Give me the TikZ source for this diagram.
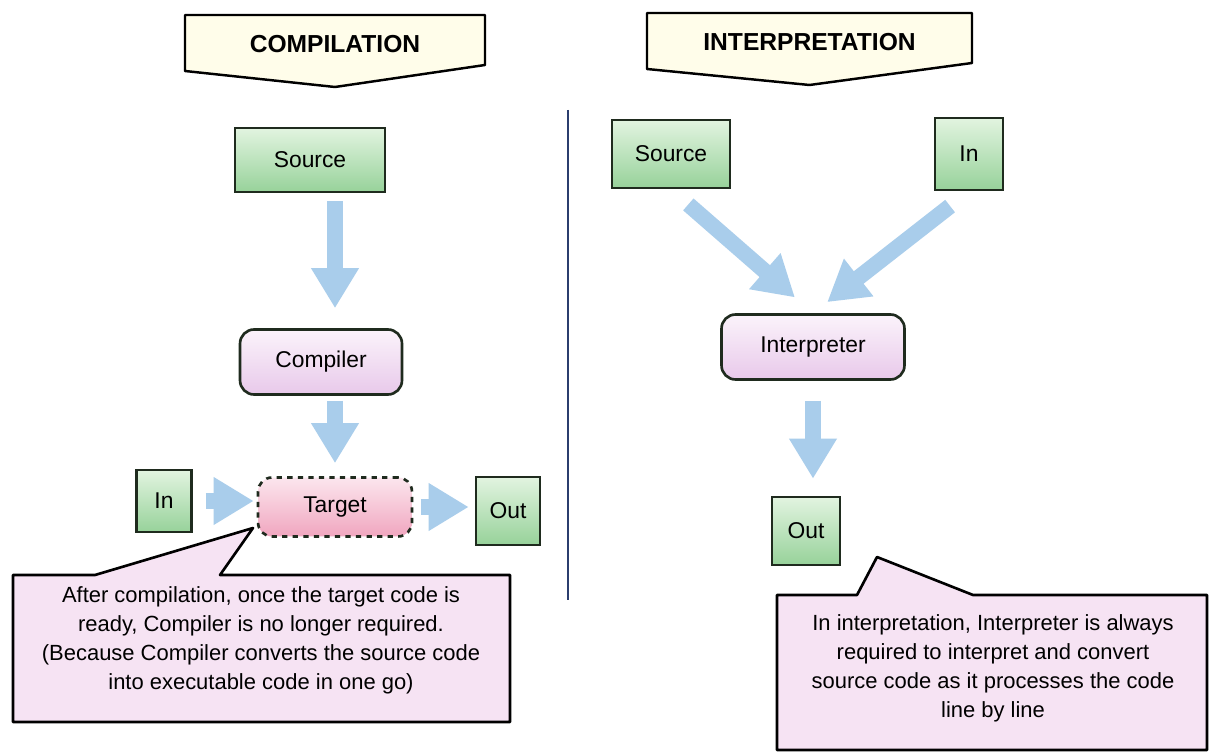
\documentclass[tikz,border=0pt]{standalone}
\usepackage{fontspec}
\setmainfont{Liberation Sans}
\usepackage{tikz}
\usetikzlibrary{calc}
\usetikzlibrary{arrows.meta}
\definecolor{greenA}{HTML}{E2F4E0}
\definecolor{greenB}{HTML}{97D29A}
\definecolor{edgedark}{HTML}{1F2B1E}
\definecolor{pinkA}{HTML}{FBF3FB}
\definecolor{pinkB}{HTML}{E8C9EA}
\definecolor{targetA}{HTML}{FCE6EE}
\definecolor{targetB}{HTML}{F0A6BF}
\definecolor{notefill}{HTML}{F6E3F3}
\definecolor{flowblue}{HTML}{A9CDEB}
\definecolor{bannerfill}{HTML}{FFFDEA}
\definecolor{divider}{HTML}{2B3D6E}
\tikzset{
  greenbox/.style={draw=edgedark, line width=1.5pt, top color=greenA, bottom color=greenB,
    font=\fontsize{13}{15}\selectfont, inner sep=0pt},
  procbox/.style={draw=edgedark, line width=1.5pt, rounded corners=8pt, top color=pinkA,
    bottom color=pinkB, font=\fontsize{13}{15}\selectfont, inner sep=0pt},
  flow/.style={draw=flowblue, line width=9pt, -{Triangle[length=0.8cm,width=0.9cm,fill=flowblue]}},
  bannerline/.style={draw=black, line width=1.4pt, fill=bannerfill, line join=round},
  bannertext/.style={font=\bfseries\fontsize{14}{16}\selectfont},
  noteline/.style={draw=black, line width=1.5pt, fill=notefill, line join=round},
  notetext/.style={align=center, font=\fontsize{12.5}{16.5}\selectfont}
}
\newcommand{\banner}[5]{ \draw[bannerline] (#2,#4) -- (#3,#4) -- (#3,#4+50) -- ({(#2+#3)/2},#4+72) -- (#2,#4+56) -- cycle;
  \node[bannertext] (#1) at ({(#2+#3)/2},#4+29) {#5};}

\begin{document}
\begin{tikzpicture}[x=0.02cm,y=-0.02cm]
\useasboundingbox[fill=white] (0,0) rectangle (1210,753);
% headings
\banner{compHead}{185}{485}{15}{COMPILATION}
\banner{interpHead}{647}{972}{13}{INTERPRETATION}
% divider
\draw[divider, line width=1.6pt] (568,110) -- (568,600);
% compilation side
\node[greenbox, minimum width=3cm, minimum height=1.28cm] (srcL) at (310,160) {Source};
\node[procbox, minimum width=3.24cm, minimum height=1.3cm] (compL) at (321,362) {Compiler};
\node[procbox, dashed, top color=targetA, bottom color=targetB, minimum width=3.08cm,
  minimum height=1.18cm] (tgtL) at (335,507) {Target};
\node[greenbox, minimum width=1.1cm, minimum height=1.24cm] (inL) at (164,501) {In};
\node[greenbox, minimum width=1.28cm, minimum height=1.36cm] (outL) at (508,511) {Out};
\draw[flow, shorten <=0.16cm, shorten >=0.4cm] (srcL.south -| tgtL) -- (compL.north -| tgtL);
\draw[flow, shorten <=0.1cm, shorten >=0.26cm] (compL.south -| tgtL) -- (tgtL.north);
\draw[flow, shorten <=0.26cm, shorten >=0.06cm] (inL.east) -- (inL.east -| tgtL.west);
\draw[flow, shorten <=0.16cm, shorten >=0.12cm] (tgtL.east) -- (tgtL.east -| outL.west);
% compilation note
\coordinate (tipL) at (253,528);
\draw[noteline] (13,575) -- (95,575) -- (tipL) -- (220,575) -- (510,575) -- (510,722) -- (13,722) -- cycle;
\node[notetext] (noteL) at (261,640) {After compilation, once the target code is\\
  ready, Compiler is no longer required.\\
  (Because Compiler converts the source code\\
  into executable code in one go)};
% interpretation side
\node[greenbox, minimum width=2.36cm, minimum height=1.36cm] (srcR) at (671,154) {Source};
\node[greenbox, minimum width=1.36cm, minimum height=1.44cm] (inR) at (969,154) {In};
\node[procbox, minimum width=3.66cm, minimum height=1.3cm] (interp) at (813,347) {Interpreter};
\node[greenbox, minimum width=1.36cm, minimum height=1.36cm] (outR) at (806,531) {Out};
\draw[flow, shorten <=0.46cm, shorten >=0.48cm] (srcR.south) -- (interp.north);
\draw[flow, shorten <=0.48cm, shorten >=0.36cm] (inR.south) -- (interp.north);
\draw[flow, shorten <=0.4cm, shorten >=0.34cm] (interp.south) -- (interp.south |- outR.north);
% interpretation note
\coordinate (tipR) at (877,557);
\draw[noteline] (777,595) -- (857,595) -- (tipR) -- (973,595) -- (1207,595) -- (1207,750) -- (777,750) -- cycle;
\node[notetext] (noteR) at (993,668) {In interpretation, Interpreter is always\\
  required to interpret and convert\\
  source code as it processes the code\\
  line by line};
\end{tikzpicture}
\end{document}
